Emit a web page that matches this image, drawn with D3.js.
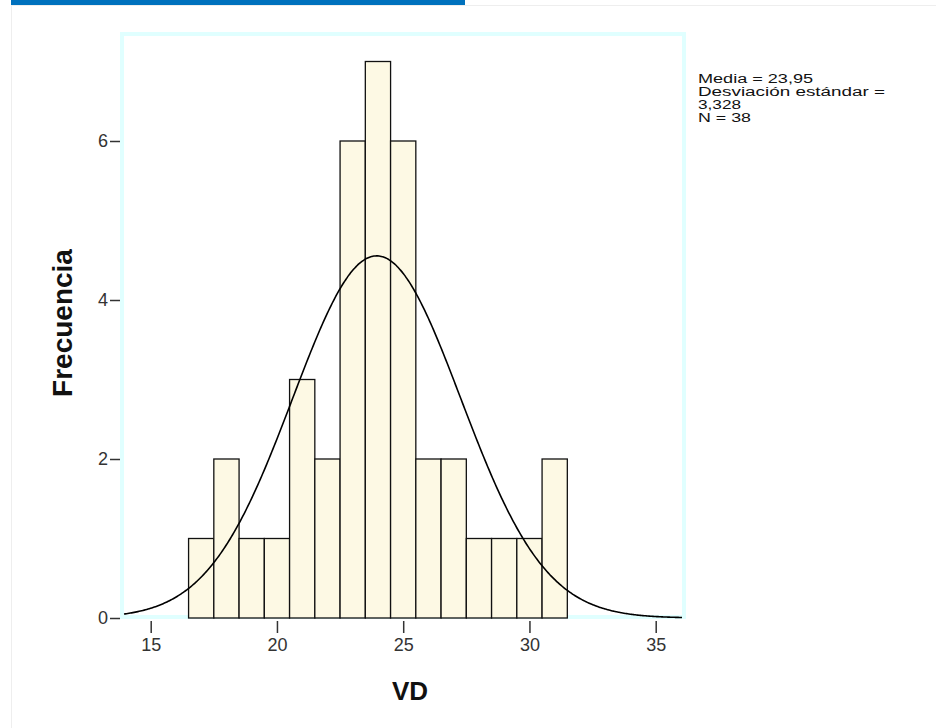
<!DOCTYPE html>
<html>
<head>
<meta charset="utf-8">
<script src="https://cdn.jsdelivr.net/npm/d3@7"></script>
<style>
  body { margin: 0; background: #fff; }
  svg { display: block; font-family: Arial, "Liberation Sans", sans-serif; }
</style>
</head>
<body>
<div id="vis"></div>
<script>
// histogram bins (centre of each 1-unit bin) and their frequencies
const binCenters = [17, 18, 19, 20, 21, 22, 23, 24, 25, 26, 27, 28, 29, 30, 31];
const counts = [1, 2, 1, 1, 3, 2, 6, 7, 6, 2, 2, 1, 1, 1, 2];
const binWidth = 1;

const xTicks = [15, 20, 25, 30, 35];
const yTicks = [0, 2, 4, 6];

// summary stats shown in the legend, also used for the normal curve
const mean = 23.95;
const sd = 3.328;
const n = 38;
const statsLines = ["Media = 23,95", "Desviación estándar =", "3,328", "N = 38"];
const statsWidths = [115, 187, 43, 53];

const xTitle = "VD";
const yTitle = "Frecuencia";

////////////////////////////////////////
////////////// SVG Setup ///////////////
////////////////////////////////////////

const W = 936, H = 728;
const frame = { left: 122, right: 684, top: 34, bottom: 617 };

const svg = d3.select("#vis").append("svg")
  .attr("width", W)
  .attr("height", H);

// page decoration: blue tab + faint panel border
svg.append("rect").attr("x", 11).attr("y", 0).attr("width", 454).attr("height", 5).attr("fill", "#0071BD");
svg.append("line").attr("x1", 11).attr("x2", W).attr("y1", 5.5).attr("y2", 5.5).attr("stroke", "#eeeeee");
svg.append("line").attr("x1", 11.5).attr("x2", 11.5).attr("y1", 5).attr("y2", H).attr("stroke", "#eeeeee");

////////////////////////////////////////
////////////// Scales //////////////////
////////////////////////////////////////

const x = d3.scaleLinear().domain([15, 35]).range([150.7, 655.7]);
const y = d3.scaleLinear().domain([0, 6]).range([618, 141]);

// plot frame
svg.append("rect")
  .attr("x", frame.left)
  .attr("y", frame.top)
  .attr("width", frame.right - frame.left)
  .attr("height", frame.bottom - frame.top)
  .attr("fill", "#fff")
  .attr("stroke", "#E0FFFF")
  .attr("stroke-width", 4);

////////////////////////////////////////
////////////// Bars ////////////////////
////////////////////////////////////////

const bins = binCenters.map((c, i) => ({ x0: c - binWidth / 2, x1: c + binWidth / 2, count: counts[i] }));

svg.append("g").selectAll("rect")
  .data(bins)
  .join("rect")
  .attr("x", d => x(d.x0))
  .attr("y", d => y(d.count))
  .attr("width", d => x(d.x1) - x(d.x0))
  .attr("height", d => y(0) - y(d.count))
  .attr("fill", "#FDF9E4")
  .attr("stroke", "#111")
  .attr("stroke-width", 1.3);

////////////////////////////////////////
////////////// Normal curve ////////////
////////////////////////////////////////

const xMin = x.invert(frame.left + 2), xMax = x.invert(frame.right - 2);
const density = v => n * binWidth / (sd * Math.sqrt(2 * Math.PI)) * Math.exp(-0.5 * ((v - mean) / sd) ** 2);
const curvePts = d3.range(xMin, xMax, 0.05).concat([xMax]).map(v => [v, density(v)]);

svg.append("path")
  .datum(curvePts)
  .attr("fill", "none")
  .attr("stroke", "#000")
  .attr("stroke-width", 1.6)
  .attr("d", d3.line().x(d => x(d[0])).y(d => y(d[1])).curve(d3.curveBasis));

////////////////////////////////////////
//////////////// Axis //////////////////
////////////////////////////////////////

const yAxis = svg.append("g")
  .attr("transform", `translate(${frame.left - 2},0)`)
  .call(d3.axisLeft(y).tickValues(yTicks).tickFormat(d3.format("d")).tickSize(10).tickPadding(2));
yAxis.select(".domain").remove();
yAxis.selectAll(".tick line").attr("stroke", "#333").attr("stroke-width", 1.5);
yAxis.selectAll(".tick text").attr("font-size", 18).attr("fill", "#333").attr("font-family", "Arial, Liberation Sans, sans-serif");

const xAxis = svg.append("g")
  .attr("transform", `translate(0,${frame.bottom + 4})`)
  .call(d3.axisBottom(x).tickValues(xTicks).tickFormat(d3.format("d")).tickSize(12).tickPadding(5));
xAxis.select(".domain").remove();
xAxis.selectAll(".tick line").attr("stroke", "#333").attr("stroke-width", 1.5);
xAxis.selectAll(".tick text").attr("font-size", 18).attr("fill", "#333").attr("font-family", "Arial, Liberation Sans, sans-serif");

// axis titles
svg.append("text")
  .attr("x", 410)
  .attr("y", 700)
  .attr("text-anchor", "middle")
  .attr("font-size", 26)
  .attr("font-weight", "bold")
  .attr("fill", "#111")
  .text(xTitle);

svg.append("text")
  .attr("transform", "translate(72,323) rotate(-90)")
  .attr("text-anchor", "middle")
  .attr("font-size", 28)
  .attr("font-weight", "bold")
  .attr("fill", "#111")
  .text(yTitle);

// stats legend
svg.append("g").selectAll("text")
  .data(statsLines)
  .join("text")
  .attr("x", 698)
  .attr("y", (d, i) => 83 + i * 13)
  .attr("font-size", 12.5)
  .attr("fill", "#111")
  .attr("textLength", (d, i) => statsWidths[i])
  .attr("lengthAdjust", "spacingAndGlyphs")
  .text(d => d);
</script>
</body>
</html>
